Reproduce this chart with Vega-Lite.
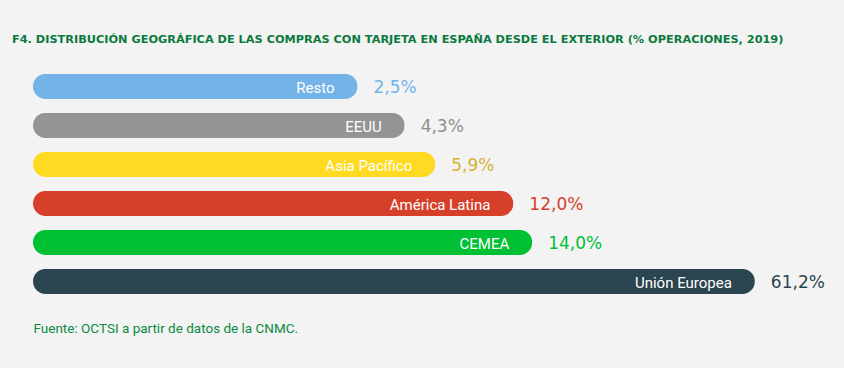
{
  "$schema": "https://vega.github.io/schema/vega-lite/v6.json",
  "width": 767,
  "height": 234,
  "autosize": {"type": "none"},
  "padding": {"left": 33, "top": 67, "right": 44, "bottom": 67},
  "background": "#f3f3f3",
  "title": {
    "text": "F4. DISTRIBUCIÓN GEOGRÁFICA DE LAS COMPRAS CON TARJETA EN ESPAÑA DESDE EL EXTERIOR (% OPERACIONES, 2019)",
    "anchor": "start",
    "frame": "group",
    "dx": -21,
    "offset": 11,
    "baseline": "bottom",
    "font": "DejaVu Sans",
    "fontSize": 11.3,
    "fontWeight": "bold",
    "color": "#0b7a3e"
  },
  "data": {
    "values": [
      {"region": "Resto", "valor": 2.5, "etiqueta": "2,5%"},
      {"region": "EEUU", "valor": 4.3, "etiqueta": "4,3%"},
      {"region": "Asia Pacífico", "valor": 5.9, "etiqueta": "5,9%"},
      {"region": "América Latina", "valor": 12.0, "etiqueta": "12,0%"},
      {"region": "CEMEA", "valor": 14.0, "etiqueta": "14,0%"},
      {"region": "Unión Europea", "valor": 61.2, "etiqueta": "61,2%"}
    ]
  },
  "encoding": {
    "y": {
      "field": "region",
      "type": "nominal",
      "sort": ["Resto", "EEUU", "Asia Pacífico", "América Latina", "CEMEA", "Unión Europea"],
      "scale": {"paddingInner": 0, "paddingOuter": 0},
      "axis": null
    },
    "x": {
      "field": "valor",
      "type": "quantitative",
      "scale": {"type": "pow", "exponent": 0.25, "domain": [0, 78], "nice": false, "zero": true},
      "axis": {
        "labels": false,
        "ticks": false,
        "domain": false,
        "grid": false,
        "title": "Fuente: OCTSI a partir de datos de la CNMC.",
        "titleAnchor": "start",
        "titleAlign": "left",
        "titleBaseline": "alphabetic",
        "titlePadding": 31,
        "titleFont": "Roboto",
        "titleFontSize": 13.5,
        "titleFontWeight": "normal",
        "titleColor": "#0b8a45"
      }
    }
  },
  "layer": [
    {
      "mark": {"type": "bar", "height": {"band": 0.645}, "cornerRadius": 12.5},
      "encoding": {
        "color": {
          "field": "region",
          "type": "nominal",
          "scale": {
            "domain": ["Resto", "EEUU", "Asia Pacífico", "América Latina", "CEMEA", "Unión Europea"],
            "range": ["#74b3e8", "#959393", "#fedb22", "#d6402b", "#00c033", "#2b4550"]
          },
          "legend": null
        }
      }
    },
    {
      "mark": {"type": "text", "align": "right", "baseline": "middle", "dx": -23, "dy": 1, "font": "Roboto", "fontSize": 15, "color": "#ffffff"},
      "encoding": {"text": {"field": "region", "type": "nominal"}}
    },
    {
      "mark": {"type": "text", "align": "left", "baseline": "middle", "dx": 16, "dy": 1, "font": "DejaVu Sans", "fontSize": 17, "fontWeight": 500},
      "encoding": {
        "text": {"field": "etiqueta", "type": "nominal"},
        "color": {
          "field": "region",
          "type": "nominal",
          "scale": {
            "domain": ["Resto", "EEUU", "Asia Pacífico", "América Latina", "CEMEA", "Unión Europea"],
            "range": ["#74b3e8", "#8f8d8d", "#d9b233", "#d6402b", "#00c033", "#2b4550"]
          },
          "legend": null
        }
      }
    }
  ],
  "resolve": {"scale": {"color": "independent"}},
  "config": {"view": {"stroke": null}}
}
